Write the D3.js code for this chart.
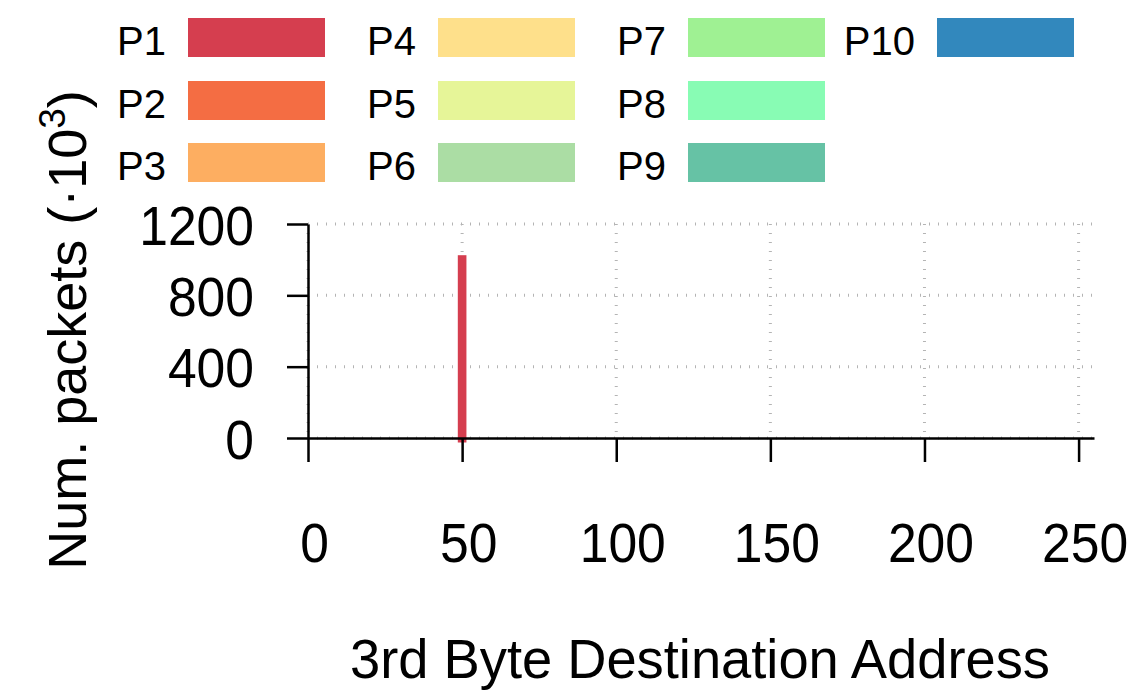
<!DOCTYPE html>
<html>
<head>
<meta charset="utf-8">
<script src="https://cdn.jsdelivr.net/npm/d3@7"></script>
<style>
  html, body { margin: 0; padding: 0; background: #fff; }
  svg { display: block; }
  .tick-label { font-family: "Liberation Sans", Arial, sans-serif; font-size: 56px; fill: #000; }
  .axis-title { font-family: "Liberation Sans", Arial, sans-serif; fill: #000; }
  .legend-label { font-family: "Liberation Sans", Arial, sans-serif; font-size: 40px; fill: #000; }
</style>
</head>
<body>
<svg id="chart" width="1138" height="690"></svg>
<script>
// Series (traffic profiles) and their colours
const seriesNames = ["P1", "P2", "P3", "P4", "P5", "P6", "P7", "P8", "P9", "P10"];
const seriesColors = ["#d53e4f", "#f46d43", "#fdae61", "#fee08b", "#e6f598",
                      "#abdda4", "#9ff193", "#88fcb4", "#66c2a5", "#3288bd"];

// 3rd byte of the destination address that received traffic
const destBytes = [50];
// Packets (thousands) per series at each destination byte
const packetsP1 = [1025];
const packetsP2 = [0];
const packetsP3 = [0];
const packetsP4 = [0];
const packetsP5 = [0];
const packetsP6 = [0];
const packetsP7 = [0];
const packetsP8 = [0];
const packetsP9 = [0];
const packetsP10 = [0];
const packetsBySeries = [packetsP1, packetsP2, packetsP3, packetsP4, packetsP5,
                         packetsP6, packetsP7, packetsP8, packetsP9, packetsP10];

const xTicks = [0, 50, 100, 150, 200, 250];
const yTicks = [0, 400, 800, 1200];

const svg = d3.select("#chart");

const plot = { left: 308, right: 1094, top: 224, bottom: 438 };
const x = d3.scaleLinear().domain([0, 255]).range([plot.left, plot.right]);
const y = d3.scaleLinear().domain([0, 1200]).range([plot.bottom, plot.top]);
const barWidthUnits = 2.8;
const digitAdvance = 28.7;   // slightly condensed tick digits

// Dotted grid
const grid = svg.append("g").attr("stroke", "#b4b4b4").attr("stroke-width", 3)
  .attr("stroke-dasharray", "1,8");
grid.selectAll("line.h").data(yTicks).join("line").attr("class", "h")
  .attr("x1", plot.left).attr("x2", plot.right)
  .attr("y1", d => y(d)).attr("y2", d => y(d));
grid.selectAll("line.v").data(xTicks).join("line").attr("class", "v")
  .attr("x1", d => x(d)).attr("x2", d => x(d))
  .attr("y1", plot.top).attr("y2", plot.bottom);

// Bars
const bars = [];
packetsBySeries.forEach((vals, si) => {
  vals.forEach((v, i) => { if (v > 0) bars.push({ s: si, addr: destBytes[i], v }); });
});
svg.append("g").selectAll("rect").data(bars).join("rect")
  .attr("x", d => x(d.addr - barWidthUnits / 2))
  .attr("width", d => x(d.addr + barWidthUnits / 2) - x(d.addr - barWidthUnits / 2))
  .attr("y", d => y(d.v))
  .attr("height", d => y(0) - y(d.v) + 4.5)
  .attr("fill", d => seriesColors[d.s]);

// Axes
const fmt = d3.format("d");
const xAxis = d3.axisBottom(x).tickValues(xTicks).tickFormat(fmt)
  .tickSize(24).tickSizeOuter(0).tickPadding(0);
const gx = svg.append("g").attr("transform", `translate(0,${plot.bottom})`).call(xAxis);
gx.select(".domain").attr("stroke", "#000").attr("stroke-width", 2.5);
gx.selectAll(".tick line").attr("stroke", "#000").attr("stroke-width", 2.5);
gx.selectAll(".tick text").attr("class", "tick-label")
  .attr("dy", null).attr("y", 124).attr("dx", 6);

const yAxis = d3.axisLeft(y).tickValues(yTicks).tickFormat(fmt)
  .tickSize(21).tickSizeOuter(0).tickPadding(0);
const gy = svg.append("g").attr("transform", `translate(${plot.left},0)`).call(yAxis);
gy.select(".domain").attr("stroke", "#000").attr("stroke-width", 2.5);
gy.selectAll(".tick line").attr("stroke", "#000").attr("stroke-width", 2.5);
gy.selectAll(".tick text").attr("class", "tick-label")
  .attr("dy", null).attr("x", -54).attr("y", 20);

svg.selectAll(".tick text").attr("fill", "#000")
  .attr("textLength", d => fmt(d).length * digitAdvance)
  .attr("lengthAdjust", "spacingAndGlyphs");
[gx, gy].forEach(g => g.attr("font-size", null).attr("font-family", null));

// Axis titles
svg.append("text").attr("class", "axis-title")
  .attr("x", 700).attr("y", 678).attr("text-anchor", "middle")
  .attr("font-size", 56).attr("textLength", 700).attr("lengthAdjust", "spacingAndGlyphs")
  .text("3rd Byte Destination Address");

const yTitle = svg.append("text").attr("class", "axis-title")
  .attr("transform", "translate(86,330) rotate(-90)")
  .attr("text-anchor", "middle").attr("font-size", 54);
yTitle.append("tspan").text("Num. packets (·10");
yTitle.append("tspan").attr("dy", -21).attr("font-size", 37).text("3");
yTitle.append("tspan").attr("dy", 21).text(")");

// Legend: 3 rows, filled column by column
const legend = svg.append("g");
const colX = [188, 438, 688, 937];
const rowY = [18, 81, 143];
const item = legend.selectAll("g").data(seriesNames).join("g")
  .attr("transform", (d, i) => `translate(${colX[Math.floor(i / 3)]},${rowY[i % 3]})`);
item.append("rect").attr("width", 137).attr("height", 39)
  .attr("fill", (d, i) => seriesColors[i]);
item.append("text").attr("class", "legend-label")
  .attr("x", -22).attr("y", 37).attr("text-anchor", "end").text(d => d);
</script>
</body>
</html>
